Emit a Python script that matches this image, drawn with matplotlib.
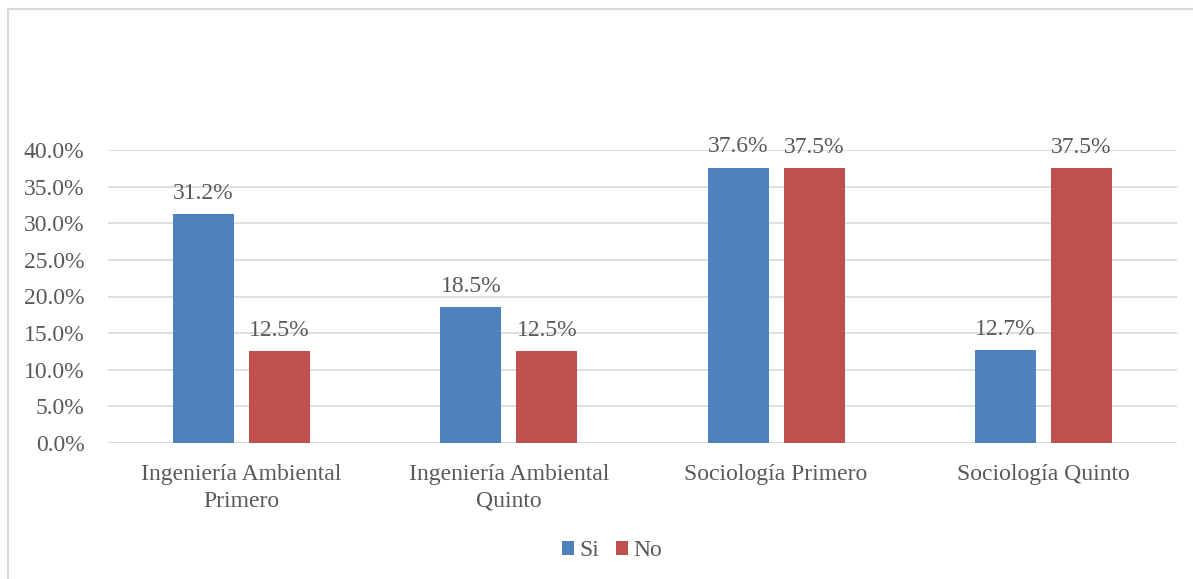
import matplotlib
matplotlib.use("Agg")
import matplotlib.pyplot as plt
from matplotlib.lines import Line2D
import numpy as np

categories = ["Ingeniería Ambiental\nPrimero", "Ingeniería Ambiental\nQuinto",
              "Sociología Primero", "Sociología Quinto"]
si_values = [31.2, 18.5, 37.6, 12.7]
no_values = [12.5, 12.5, 37.5, 37.5]
series_names = ["Si", "No"]
yticks = [0, 5, 10, 15, 20, 25, 30, 35, 40]

plt.rcParams['font.family'] = ['Liberation Serif', 'DejaVu Serif']
txt = '#595959'
fs = 17

fig = plt.figure(figsize=(11.93, 5.79), dpi=100)
ax = fig.add_axes([108/1193, 1-443/579, (1177-108)/1193, (443-150)/579])

x = np.arange(len(categories))
w = 0.228
gap = 0.056
b1 = ax.bar(x - (w+gap)/2, si_values, w, color='#4F81BD', label=series_names[0], zorder=3)
b2 = ax.bar(x + (w+gap)/2, no_values, w, color='#C0504D', label=series_names[1], zorder=3)
for bars, vals in ((b1, si_values), (b2, no_values)):
    for b, v in zip(bars, vals):
        ax.annotate(f"{v:.1f}%", (b.get_x()+b.get_width()/2, v), xytext=(0, 11),
                    textcoords='offset points', ha='center', va='baseline',
                    fontsize=fs, color=txt)

ax.set_xlim(-0.5, len(categories)-0.5)
ax.set_ylim(0, 40)
ax.set_yticks(yticks)
ax.set_yticklabels([f"{t:.1f}%" for t in yticks], fontsize=fs, color=txt)
ax.set_xticks(x)
ax.set_xticklabels(categories, fontsize=fs, color=txt, linespacing=1.38)
ax.tick_params(length=0)
ax.tick_params(axis='x', pad=15)
ax.tick_params(axis='y', pad=17)
ax.grid(axis='y', color='#D9D9D9', linewidth=1.2, zorder=0)
for s in ax.spines.values():
    s.set_visible(False)
ax.axhline(0, color='#D9D9D9', linewidth=1.2, zorder=2)

leg = fig.legend(handles=[b1, b2], labels=series_names, loc='center',
                 bbox_to_anchor=(612/1193, 1-551/579), ncol=2, frameon=False,
                 fontsize=fs, handlelength=0.5, handleheight=0.5,
                 handletextpad=0.25, columnspacing=0.7)
for t in leg.get_texts():
    t.set_color(txt)

# outer chart-area border (only left and top edges are visible in the crop)
fig.add_artist(Line2D([8/1193, 8/1193], [0, 1-9/579], transform=fig.transFigure,
                      color='#D9D9D9', linewidth=1.5))
fig.add_artist(Line2D([8/1193, 1], [1-9/579, 1-9/579], transform=fig.transFigure,
                      color='#D9D9D9', linewidth=1.5))

fig.savefig("out.png", dpi=100)
